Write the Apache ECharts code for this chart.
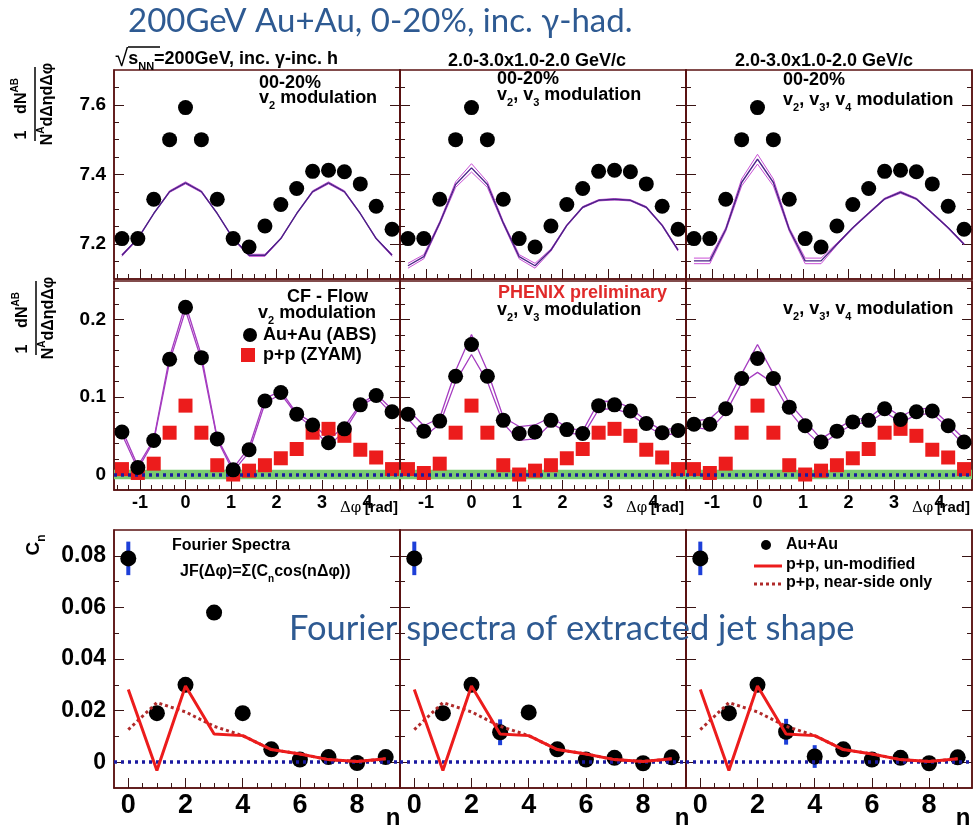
<!DOCTYPE html>
<html>
<head>
<meta charset="utf-8">
<title>200GeV Au+Au, 0-20%, inc. γ-had.</title>
<script src="https://cdn.jsdelivr.net/npm/echarts@6/dist/echarts.min.js"></script>
<style>
  html, body { margin: 0; padding: 0; background: #ffffff; }
  #chart { width: 979px; height: 827px; }
</style>
</head>
<body>
<div id="chart"></div>
<script>
// ---------------------------------------------------------------
// Data
// ---------------------------------------------------------------

// Δφ bin centres (rad): 18 bins over -π/2 .. 3π/2
const DPHI = [-1.396, -1.047, -0.698, -0.349, 0.000, 0.349, 0.698, 1.047, 1.396,
              1.745, 2.094, 2.443, 2.793, 3.142, 3.491, 3.840, 4.189, 4.538];

// Correlation function, Au+Au 0-20 %, inclusive γ – inclusive h
const CF_AUAU = [7.216, 7.216, 7.329, 7.500, 7.592, 7.500, 7.329, 7.216, 7.192,
                 7.252, 7.314, 7.360, 7.409, 7.412, 7.408, 7.373, 7.309, 7.243];

// Flow modulation (centre line) and systematic half-width of its band
const FLOW_V2 = [7.168, 7.216, 7.288, 7.351, 7.376, 7.351, 7.288, 7.216, 7.168,
                 7.168, 7.216, 7.288, 7.351, 7.376, 7.351, 7.288, 7.216, 7.168];
const FLOW_V2_SYS = [0.003, 0.0015, 0.0006, 0.0023, 0.003, 0.0023, 0.0006, 0.0015, 0.003,
                     0.003, 0.0015, 0.0006, 0.0023, 0.003, 0.0023, 0.0006, 0.0015, 0.003];

const FLOW_V23 = [7.138, 7.164, 7.261, 7.371, 7.419, 7.371, 7.261, 7.164, 7.138,
                  7.183, 7.254, 7.306, 7.326, 7.329, 7.326, 7.306, 7.254, 7.183];
const FLOW_V23_SYS = [0.007, 0.006, 0.004, 0.008, 0.012, 0.008, 0.004, 0.006, 0.007,
                      0.003, 0.002, 0.002, 0.002, 0.002, 0.002, 0.002, 0.002, 0.003];

const FLOW_V234 = [7.152, 7.152, 7.242, 7.377, 7.444, 7.377, 7.242, 7.152, 7.152,
                   7.200, 7.247, 7.289, 7.330, 7.349, 7.330, 7.289, 7.247, 7.200];
const FLOW_V234_SYS = [0.008, 0.008, 0.005, 0.010, 0.014, 0.010, 0.005, 0.008, 0.008,
                       0.003, 0.002, 0.002, 0.002, 0.003, 0.002, 0.002, 0.002, 0.002];

// Jet function (CF - flow) for Au+Au and its band half-width
const JF_V2 = [0.055, 0.009, 0.044, 0.149, 0.216, 0.151, 0.046, 0.006, 0.032,
               0.095, 0.106, 0.078, 0.064, 0.041, 0.059, 0.090, 0.102, 0.081];
const JF_V2_SYS = [0.003, 0.002, 0.001, 0.003, 0.004, 0.003, 0.001, 0.002, 0.003,
                   0.003, 0.002, 0.001, 0.003, 0.004, 0.003, 0.001, 0.002, 0.003];

const JF_V23 = [0.078, 0.056, 0.069, 0.127, 0.168, 0.127, 0.070, 0.053, 0.055,
                0.070, 0.058, 0.053, 0.089, 0.090, 0.082, 0.066, 0.054, 0.057];
const JF_V23_SYS = [0.006, 0.007, 0.004, 0.007, 0.013, 0.007, 0.004, 0.009, 0.009,
                    0.004, 0.003, 0.003, 0.005, 0.005, 0.004, 0.003, 0.003, 0.004];

const JF_V234 = [0.065, 0.065, 0.085, 0.124, 0.150, 0.124, 0.087, 0.063, 0.042,
                 0.056, 0.068, 0.070, 0.085, 0.071, 0.081, 0.082, 0.063, 0.042];
const JF_V234_SYS = [0.004, 0.007, 0.005, 0.006, 0.018, 0.006, 0.005, 0.006, 0.004,
                     0.003, 0.003, 0.003, 0.004, 0.004, 0.004, 0.003, 0.003, 0.004];

// p+p jet function (ZYAM)
const JF_PP = [0.007, 0.002, 0.014, 0.054, 0.089, 0.054, 0.012, 0.000, 0.005,
               0.012, 0.021, 0.033, 0.054, 0.059, 0.050, 0.032, 0.022, 0.007];

// ZYAM uncertainty band around zero
const ZYAM_BAND = [-0.006, 0.006];

// Fourier coefficients C_n of the jet function
const N_HARM = [0, 1, 2, 3, 4, 5, 6, 7, 8, 9];
const CN_V2 = [0.079, 0.019, 0.030, 0.058, 0.019, 0.005, 0.001, 0.002, -0.0003, 0.002];
const CN_V2_ERR = [0.0065, 0.001, 0.001, 0.001, 0.001, 0.0008, 0.0008, 0.0008, 0.0008, 0.0008];
const CN_V23 = [0.079, 0.019, 0.030, 0.0116, 0.0193, 0.005, 0.001, 0.0017, -0.0004, 0.0019];
const CN_V23_ERR = [0.0065, 0.001, 0.001, 0.005, 0.001, 0.0008, 0.0008, 0.0008, 0.0008, 0.0008];
const CN_V234 = [0.079, 0.019, 0.030, 0.0118, 0.0022, 0.005, 0.001, 0.0017, -0.0004, 0.0019];
const CN_V234_ERR = [0.0065, 0.001, 0.001, 0.005, 0.0044, 0.0008, 0.0008, 0.0008, 0.0008, 0.0008];

const CN_PP = [0.0282, -0.0032, 0.0295, 0.0109, 0.0103, 0.0049, 0.0032, 0.0010, 0.0003, 0.0013];
const CN_PP_NEAR = [0.0126, 0.0231, 0.0195, 0.0139, 0.0103, 0.0049, 0.0032, 0.0010, 0.0003, 0.0013];

// Tick labels
const DPHI_TICKS = [-1, 0, 1, 2, 3, 4];
const N_TICKS = [0, 2, 4, 6, 8];
const CF_TICKS = [7.2, 7.4, 7.6];
const JF_TICKS = [0, 0.1, 0.2];
const CN_TICKS = [0, 0.02, 0.04, 0.06, 0.08];

// ---------------------------------------------------------------
// Styling / layout
// ---------------------------------------------------------------
const FRAME = '#5a1212';
const TICK = '#3a1414';
const TITLE_BLUE = '#2e5a92';
const SANS = '"Liberation Sans", Arial, Helvetica, sans-serif';
const TITLE_FONT = 'Lato, "Open Sans", "DejaVu Sans", sans-serif';
const BAND_OUTER = '#c94fd6';
const BAND_CENTRE = '#4a2387';
const JF_BAND = '#a53cc0';
const PP_RED = '#ec1c1c';
const ZERO_BLUE = '#1a1aa0';
const ERR_BLUE = '#1d3fd8';
const ZYAM_GREEN = '#7acc70';

const COL_LEFT = [114, 400, 686];
const COL_WIDTH = 286;
const ROWS = [
  { top: 70, height: 209 },
  { top: 281, height: 209 },
  { top: 530, height: 258 }
];

const X_RANGE = [
  [-Math.PI / 2, 1.5 * Math.PI],
  [-Math.PI / 2, 1.5 * Math.PI],
  [-0.5, 9.5]
];
const Y_RANGE = [[7.1, 7.7], [-0.02, 0.25], [-0.01, 0.09]];

function steps(min, max, step, skip) {
  const out = [];
  for (let k = Math.ceil(min / step - 1e-9); k * step <= max + 1e-9; k++) {
    const v = +(k * step).toFixed(6);
    if (v <= min + 1e-9 || v >= max - 1e-9) continue;
    if (!skip.some(s => Math.abs(s - v) < 1e-9)) out.push(v);
  }
  return out;
}

const X_MAJOR = [DPHI_TICKS, DPHI_TICKS, N_TICKS];
const X_MINOR = [
  steps(X_RANGE[0][0], X_RANGE[0][1], 0.25, DPHI_TICKS),
  steps(X_RANGE[1][0], X_RANGE[1][1], 0.25, DPHI_TICKS),
  steps(X_RANGE[2][0], X_RANGE[2][1], 0.5, N_TICKS)
];
const Y_MAJOR = [CF_TICKS, JF_TICKS, CN_TICKS];
const Y_MINOR = [
  steps(7.1, 7.7, 0.05, CF_TICKS),
  steps(-0.02, 0.25, 0.02, JF_TICKS),
  steps(-0.01, 0.09, 0.01, CN_TICKS)
];
const Y_FMT = [
  v => v.toFixed(1),
  v => (Math.abs(v) < 1e-9 ? '0' : v.toFixed(1)),
  v => (Math.abs(v) < 1e-9 ? '0' : v.toFixed(2))
];
const Y_LABEL_SIZE = [19, 19, 23];
const X_LABEL_SIZE = [18, 18, 27];

const COLUMNS = [
  { flow: FLOW_V2, flowSys: FLOW_V2_SYS, jf: JF_V2, jfSys: JF_V2_SYS, cn: CN_V2, cnErr: CN_V2_ERR },
  { flow: FLOW_V23, flowSys: FLOW_V23_SYS, jf: JF_V23, jfSys: JF_V23_SYS, cn: CN_V23, cnErr: CN_V23_ERR },
  { flow: FLOW_V234, flowSys: FLOW_V234_SYS, jf: JF_V234, jfSys: JF_V234_SYS, cn: CN_V234, cnErr: CN_V234_ERR }
];

function axis(g, pos, range, ticks, len, labels, fmt, size, margin, showLine) {
  return {
    gridIndex: g, type: 'value', position: pos, min: range[0], max: range[1],
    axisLine: { show: showLine, onZero: false, lineStyle: { color: FRAME, width: 1.5 } },
    axisTick: { show: true, inside: true, length: len, customValues: ticks,
                lineStyle: { color: TICK, width: 1 } },
    axisLabel: labels
      ? { show: true, customValues: labels, formatter: fmt, fontSize: size, fontWeight: 'bold',
          fontFamily: SANS, color: '#000', margin: margin }
      : { show: false },
    minorTick: { show: false },
    splitLine: { show: false }
  };
}

const grids = [], xAxes = [], yAxes = [], series = [];

for (let row = 0; row < 3; row++) {
  for (let col = 0; col < 3; col++) {
    const g = row * 3 + col;
    grids.push({
      left: COL_LEFT[col], width: COL_WIDTH, top: ROWS[row].top, height: ROWS[row].height,
      show: true, borderColor: FRAME, borderWidth: 1.5, backgroundColor: 'transparent'
    });
    const showX = row > 0;
    xAxes.push(axis(g, 'bottom', X_RANGE[row], X_MAJOR[row], 10,
                    showX ? X_MAJOR[row] : null, v => String(v), X_LABEL_SIZE[row], 4, true));
    xAxes.push(axis(g, 'bottom', X_RANGE[row], X_MINOR[row], 5, null, null, 0, 0, false));
    const showY = col === 0;
    yAxes.push(axis(g, 'left', Y_RANGE[row], Y_MAJOR[row], 10,
                    showY ? Y_MAJOR[row] : null, Y_FMT[row], Y_LABEL_SIZE[row], 8, true));
    yAxes.push(axis(g, 'left', Y_RANGE[row], Y_MINOR[row], 5, null, null, 0, 0, false));
    yAxes.push(axis(g, 'right', Y_RANGE[row], Y_MAJOR[row], 10, null, null, 0, 0, true));
    yAxes.push(axis(g, 'right', Y_RANGE[row], Y_MINOR[row], 5, null, null, 0, 0, false));
  }
}

function ax(g) { return { xAxisIndex: 2 * g, yAxisIndex: 4 * g }; }
function lineOf(g, xs, ys, color, width, z, type) {
  return Object.assign({
    type: 'line', data: xs.map((x, i) => [x, ys[i]]), symbol: 'none', silent: true,
    lineStyle: { color: color, width: width, type: type || 'solid', opacity: 1 }, z: z
  }, ax(g));
}
function zeroLine(g, z) {
  return Object.assign({
    type: 'line', data: [], silent: true, z: z,
    markLine: { silent: true, symbol: 'none', label: { show: false },
                lineStyle: { color: ZERO_BLUE, width: 3.5, type: [3, 4], opacity: 1 },
                data: [{ yAxis: 0 }] }
  }, ax(g));
}

COLUMNS.forEach((c, col) => {
  // top row: correlation function with flow modulation band
  const gTop = col;
  series.push(lineOf(gTop, DPHI, c.flow.map((v, i) => v + c.flowSys[i]), BAND_OUTER, 1, 2));
  series.push(lineOf(gTop, DPHI, c.flow.map((v, i) => v - c.flowSys[i]), BAND_OUTER, 1, 2));
  series.push(lineOf(gTop, DPHI, c.flow, BAND_CENTRE, 1.4, 3));
  series.push(Object.assign({
    type: 'scatter', name: 'Au+Au', data: DPHI.map((x, i) => [x, CF_AUAU[i]]),
    symbol: 'circle', symbolSize: 15, itemStyle: { color: '#000', opacity: 1 }, z: 5
  }, ax(gTop)));

  // middle row: jet function
  const gMid = 3 + col;
  series.push(Object.assign({
    type: 'line', data: [], silent: true, z: 1,
    markArea: { silent: true, itemStyle: { color: ZYAM_GREEN, opacity: 1 },
                data: [[{ yAxis: ZYAM_BAND[0] }, { yAxis: ZYAM_BAND[1] }]] }
  }, ax(gMid)));
  series.push(lineOf(gMid, DPHI, c.jf.map((v, i) => v + c.jfSys[i]), JF_BAND, 1.3, 3));
  series.push(lineOf(gMid, DPHI, c.jf.map((v, i) => v - c.jfSys[i]), JF_BAND, 1.3, 3));
  series.push(Object.assign({
    type: 'scatter', name: 'p+p (ZYAM)', data: DPHI.map((x, i) => [x, JF_PP[i]]),
    symbol: 'rect', symbolSize: 14, itemStyle: { color: PP_RED, opacity: 1 }, z: 4
  }, ax(gMid)));
  series.push(zeroLine(gMid, 6));
  series.push(Object.assign({
    type: 'scatter', name: 'Au+Au (ABS)', data: DPHI.map((x, i) => [x, c.jf[i]]),
    symbol: 'circle', symbolSize: 15, itemStyle: { color: '#000', opacity: 1 }, z: 7
  }, ax(gMid)));

  // bottom row: Fourier spectra
  const gBot = 6 + col;
  series.push(zeroLine(gBot, 1));
  series.push(Object.assign({
    type: 'custom', silent: true, z: 3,
    data: N_HARM.map((n, i) => [n, c.cn[i] - c.cnErr[i], c.cn[i] + c.cnErr[i]]),
    encode: { x: 0, y: [1, 2] },
    renderItem: (params, api) => {
      const p1 = api.coord([api.value(0), api.value(1)]);
      const p2 = api.coord([api.value(0), api.value(2)]);
      return { type: 'line', shape: { x1: p1[0], y1: p1[1], x2: p2[0], y2: p2[1] },
               style: { stroke: ERR_BLUE, lineWidth: 4 } };
    }
  }, ax(gBot)));
  series.push(Object.assign({
    type: 'scatter', name: 'Au+Au', data: N_HARM.map((n, i) => [n, c.cn[i]]),
    symbol: 'circle', symbolSize: 16, itemStyle: { color: '#000', opacity: 1 }, z: 4
  }, ax(gBot)));
  series.push(lineOf(gBot, N_HARM, CN_PP_NEAR, '#b02a2a', 3, 5, [3, 3]));
  series.push(lineOf(gBot, N_HARM, CN_PP, PP_RED, 3, 6));
});

// ---------------------------------------------------------------
// Text and annotations
// ---------------------------------------------------------------
function rich(size, color) {
  const base = { fontSize: size, fontWeight: 'bold', fontFamily: SANS, fill: color || '#000',
                 lineHeight: size + 8 };
  return {
    m: base,
    s: Object.assign({}, base, { fontSize: Math.round(size * 0.62), verticalAlign: 'bottom' }),
    u: Object.assign({}, base, { fontSize: Math.round(size * 0.62), verticalAlign: 'top' }),
    g: Object.assign({}, base, { fontWeight: 'normal', fontFamily: '"DejaVu Serif", "Liberation Serif", serif' }),
    r: Object.assign({}, base, { fontSize: size + 6, fontWeight: 'normal' })
  };
}
function label(x, y, text, size, opts) {
  opts = opts || {};
  return {
    type: 'text', x: x, y: y, z: 100, silent: true,
    style: { text: text, rich: rich(size, opts.color), align: opts.align || 'left',
             verticalAlign: 'middle', fill: opts.color || '#000' }
  };
}
function fractionTitle(cx, cy) {
  const r = rich(16);
  return {
    type: 'group', x: cx, y: cy, rotation: Math.PI / 2, z: 100, silent: true,
    children: [
      { type: 'line', shape: { x1: -37, y1: 0, x2: 37, y2: 0 }, style: { stroke: '#000', lineWidth: 1.5 } },
      { type: 'text', x: -31, y: -1, style: { text: '{m|1}', rich: r, align: 'center', verticalAlign: 'bottom' } },
      { type: 'text', x: 8, y: -1, style: { text: '{m|dN}{u|AB}', rich: r, align: 'center', verticalAlign: 'bottom' } },
      { type: 'text', x: 0, y: 1, style: { text: '{m|N}{u|A}{m|dΔηdΔφ}', rich: r, align: 'center', verticalAlign: 'top' } }
    ]
  };
}

const graphics = [
  // slide headings
  { type: 'text', x: 128, y: 21, z: 100, silent: true,
    style: { text: '200GeV Au+Au, 0-20%, inc. γ-had.', fill: TITLE_BLUE, align: 'left', verticalAlign: 'middle',
             font: 'normal 33px ' + TITLE_FONT } },
  { type: 'text', x: 289, y: 629, z: 120, silent: true,
    style: { text: 'Fourier spectra of extracted jet shape', fill: TITLE_BLUE, align: 'left', verticalAlign: 'middle',
             font: 'normal 34.5px ' + TITLE_FONT } },

  // panel headers
  label(115, 59, '{r|√}{m|s}{s|NN}{m|=200GeV, inc. γ-inc. h}', 18),
  { type: 'line', z: 100, silent: true, shape: { x1: 128, y1: 47, x2: 160, y2: 47 }, style: { stroke: '#000', lineWidth: 1.5 } },
  label(537, 61, '{m|2.0-3.0x1.0-2.0 GeV/c}', 18, { align: 'center' }),
  label(824, 61, '{m|2.0-3.0x1.0-2.0 GeV/c}', 18, { align: 'center' }),

  // y-axis titles
  fractionTitle(35, 104),
  fractionTitle(36, 318),
  { type: 'group', x: 34, y: 545, rotation: Math.PI / 2, z: 100, silent: true,
    children: [{ type: 'text', x: 0, y: 0,
                 style: { text: '{m|C}{s|n}', rich: rich(19), align: 'center', verticalAlign: 'middle' } }] },

  // top row annotations
  label(259, 83, '{m|00-20%}', 18),
  label(259, 98, '{m|v}{s|2}{m| modulation}', 18),
  label(497, 79, '{m|00-20%}', 18),
  label(497, 95, '{m|v}{s|2}{m|, v}{s|3}{m| modulation}', 18),
  label(783, 80, '{m|00-20%}', 18),
  label(783, 100, '{m|v}{s|2}{m|, v}{s|3}{m|, v}{s|4}{m| modulation}', 18),

  // middle row annotations
  label(287, 297, '{m|CF - Flow}', 18),
  label(258, 313, '{m|v}{s|2}{m| modulation}', 18),
  { type: 'circle', z: 100, silent: true, shape: { cx: 250, cy: 335, r: 7 }, style: { fill: '#000' } },
  label(263, 335, '{m|Au+Au (ABS)}', 18),
  { type: 'rect', z: 100, silent: true, shape: { x: 241, y: 348, width: 14, height: 14 }, style: { fill: PP_RED } },
  label(263, 355, '{m|p+p (ZYAM)}', 18),
  label(498, 293, '{m|PHENIX preliminary}', 18, { color: '#e02a2a' }),
  label(497, 310, '{m|v}{s|2}{m|, v}{s|3}{m| modulation}', 18),
  label(783, 309, '{m|v}{s|2}{m|, v}{s|3}{m|, v}{s|4}{m| modulation}', 18),

  // Δφ axis names
  label(398, 508, '{g|Δφ} {m|[rad]}', 15, { align: 'right' }),
  label(684, 508, '{g|Δφ} {m|[rad]}', 15, { align: 'right' }),
  label(970, 508, '{g|Δφ} {m|[rad]}', 15, { align: 'right' }),

  // bottom row annotations
  label(172, 546, '{m|Fourier Spectra}', 16),
  label(180, 572, '{m|JF(Δφ)=Σ(C}{s|n}{m|cos(nΔφ))}', 16),
  { type: 'circle', z: 100, silent: true, shape: { cx: 766, cy: 545, r: 5 }, style: { fill: '#000' } },
  label(786, 545, '{m|Au+Au}', 16),
  { type: 'line', z: 100, silent: true, shape: { x1: 754, y1: 566, x2: 782, y2: 566 }, style: { stroke: PP_RED, lineWidth: 3 } },
  label(786, 565, '{m|p+p, un-modified}', 16),
  { type: 'line', z: 100, silent: true, shape: { x1: 754, y1: 584, x2: 782, y2: 584 },
    style: { stroke: '#b02a2a', lineWidth: 3, lineDash: [3, 3] } },
  label(786, 583, '{m|p+p, near-side only}', 16),

  // n axis names
  label(393, 818, '{m|n}', 24, { align: 'center' }),
  label(682, 818, '{m|n}', 24, { align: 'center' }),
  label(963, 818, '{m|n}', 24, { align: 'center' })
];

const chart = echarts.init(document.getElementById('chart'), null, { renderer: 'canvas' });
chart.setOption({
  animation: false,
  backgroundColor: '#ffffff',
  grid: grids,
  xAxis: xAxes,
  yAxis: yAxes,
  series: series,
  graphic: { elements: graphics }
});
</script>
</body>
</html>
